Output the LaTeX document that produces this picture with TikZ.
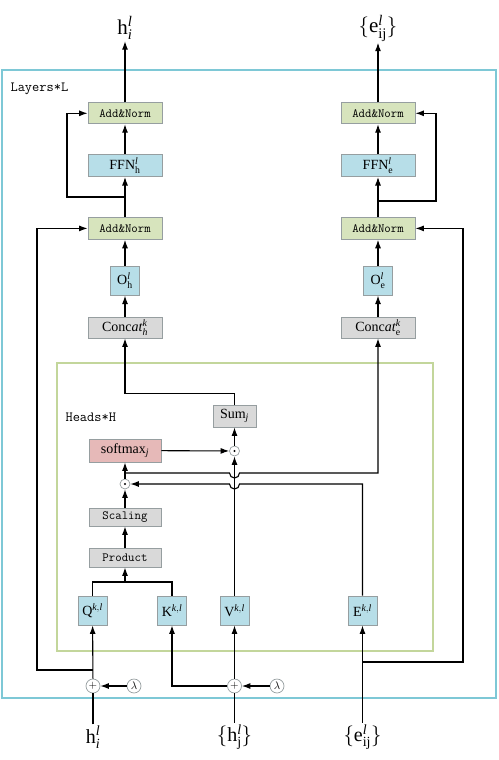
\documentclass[tikz,border=0pt]{standalone}
\usepackage{fontspec}
\setmainfont{Liberation Serif}
\usepackage{amsmath}
\usetikzlibrary{positioning,arrows.meta}

\definecolor{layercyan}{RGB}{126,200,214}
\definecolor{headgreen}{RGB}{195,214,155}
\definecolor{normgreen}{RGB}{215,228,189}
\definecolor{linblue}{RGB}{183,222,232}
\definecolor{opgray}{RGB}{217,217,217}
\definecolor{softpink}{RGB}{230,185,184}
\definecolor{boxline}{RGB}{150,158,160}

\begin{document}
\begin{tikzpicture}[x=1pt, y=-1pt, ->, >={Latex[length=8.5pt,width=6pt]}, line width=1.1pt,
	box/.style={rectangle, draw=boxline, line width=0.8pt, inner sep=0pt, minimum width=74pt, minimum height=21pt},
	norm/.style={box, fill=normgreen, font=\ttfamily\fontsize{12.5}{14}\selectfont},
	lin/.style={box, fill=linblue, font=\fontsize{14}{16}\selectfont},
	sq/.style={lin, minimum width=29pt, minimum height=29pt},
	op/.style={box, fill=opgray, font=\fontsize{14}{16}\selectfont},
	optt/.style={box, fill=opgray, minimum width=72pt, minimum height=19pt, font=\ttfamily\fontsize{12.5}{14}\selectfont},
	dotop/.style={circle, draw=boxline, line width=0.7pt, fill=white, minimum size=10pt, inner sep=0pt,
		path picture={\fill[black] (path picture bounding box.center) circle (1.1pt);}},
	addop/.style={circle, draw=boxline, line width=0.7pt, minimum size=14pt, inner sep=0pt, font=\fontsize{11}{12}\selectfont},
	io/.style={inner sep=1pt, font=\fontsize{20}{22}\selectfont},
	tag/.style={anchor=west, inner sep=0pt, font=\ttfamily\fontsize{14}{16}\selectfont}]
	\useasboundingbox (0,0) rectangle (498,760);

	% frames
	\draw[-, layercyan, line width=1.6pt] (2,70) rectangle (496,698);
	\draw[-, headgreen, line width=1.1pt] (57,363) rectangle (433,651);
	\node[tag] (layers) at (10,89) {Layers*L};
	\node[tag] (heads) at (65,417) {Heads*H};

	% node column
	\node[op] (cath) at (125,327.5) {$\mathrm{Conc}\mathit{at}_{\mathit{h}}^{\mathit{k}}$};
	\node[sq] (oh) [above=21pt of cath] {$\mathrm{O}_{\mathrm{h}}^{\mathit{l}}$};
	\node[norm, minimum height=22pt] (anh2) [above=26pt of oh] {Add\&Norm};
	\node[lin, minimum height=22pt] (ffnh) [above=40pt of anh2] {$\mathrm{FFN}_{\mathrm{h}}^{\mathit{l}}$};
	\node[norm] (anh1) [above=30pt of ffnh] {Add\&Norm};
	\node[io, font=\fontsize{21}{23}\selectfont] (outh) at (125,28) {$\mathrm{h}_{\mathit{i}}^{\mathit{l}}$};

	% edge column
	\node[op] (cate) at (378,327.5) {$\mathrm{Conc}\mathit{at}_{\mathrm{e}}^{\mathit{k}}$};
	\node[sq] (oe) [above=21pt of cate] {$\mathrm{O}_{\mathrm{e}}^{\mathit{l}}$};
	\node[norm, minimum height=22pt] (ane2) [above=26pt of oe] {Add\&Norm};
	\node[lin, minimum height=22pt] (ffne) [above=40pt of ane2] {$\mathrm{FFN}_{\mathrm{e}}^{\mathit{l}}$};
	\node[norm] (ane1) [above=30pt of ffne] {Add\&Norm};
	\node[io, font=\fontsize{21}{23}\selectfont] (oute) at (378,28) {$\{\mathrm{e}_{\mathrm{ij}}^{\mathit{l}}\}$};

	% attention head
	\node[sq] (q) at (92.5,610.5) {$\mathrm{Q}^{\mathit{k},\mathit{l}}$};
	\node[sq] (k) at (172,610.5) {$\mathrm{K}^{\mathit{k},\mathit{l}}$};
	\node[sq] (v) at (234.5,610.5) {$\mathrm{V}^{\mathit{k},\mathit{l}}$};
	\node[sq] (e) at (362.5,610.5) {$\mathrm{E}^{\mathit{k},\mathit{l}}$};
	\node[optt] (prod) at (125,557.5) {Product};
	\node[optt, minimum height=18pt] (scal) at (125,517) {Scaling};
	\node[dotop] (dot2) at (125,484) {};
	\node[box, fill=softpink, minimum width=72pt, minimum height=23pt, font=\fontsize{14}{16}\selectfont] (soft) at (125,450.5) {$\mathrm{softmax}_{\mathit{j}}$};
	\node[dotop] (dot1) at (234.5,451) {};
	\node[op, minimum width=43pt, minimum height=22pt] (sum) at (234.5,416) {$\mathrm{Sum}_{\mathit{j}}$};

	% inputs
	\node[addop] (p1) at (93,686) {$+$};
	\node[addop] (l1) at (134,686) {$\lambda$};
	\node[addop] (p2) at (234.5,686) {$+$};
	\node[addop] (l2) at (277,686) {$\lambda$};
	\node[io] (inh) at (93,737) {$\mathrm{h}_{\mathit{i}}^{\mathit{l}}$};
	\node[io] (inhj) at (234.5,737) {$\{\mathrm{h}_{\mathrm{j}}^{\mathit{l}}\}$};
	\node[io] (ine) at (362.5,737) {$\{\mathrm{e}_{\mathrm{ij}}^{\mathit{l}}\}$};

	\coordinate (fbh) at (125,197);
	\coordinate (fbe) at (378,201);
	\coordinate (resh) at (92.5,670);
	\coordinate (rese) at (362.5,662);
	\coordinate (brh) at (125,473);
	\coordinate (qk) at (125,582);

	% vertical flow
	\draw (anh1) -- (outh);
	\draw (ffnh) -- (anh1);
	\draw (anh2) -- (ffnh);
	\draw (oh) -- (anh2);
	\draw (cath) -- (oh);
	\draw (ane1) -- (oute);
	\draw (ffne) -- (ane1);
	\draw (ane2) -- (ffne);
	\draw (oe) -- (ane2);
	\draw (cate) -- (oe);
	\draw (fbh) -- ++(-58,0) |- (anh1.west);
	\draw (fbe) -- ++(58,0) |- (ane1.east);
	\draw (resh) -- (37,670) |- (anh2.west);
	\draw (rese) -- (463,662) |- (ane2.east);

	% head flow
	\draw[-] (q.north) |- (qk) -| (k.north);
	\draw (qk) -- (prod);
	\draw (prod) -- (scal);
	\draw (scal) -- (dot2);
	\draw (dot2) -- (soft);
	\draw (soft) -- (dot1);
	\draw (v) -- (dot1);
	\draw (dot1) -- (sum);
	\draw (sum.north) -- ++(0,-11) -| (cath.south);
	\draw (brh) -- (229.5,473) arc (180:0:5) -| (cate.south);
	\draw (e.north) |- (239.5,484) arc (0:180:5) -- (dot2.east);

	% input flow
	\draw[-] (inh) -- (p1);
	\draw (p1) -- (q);
	\draw (l1) -- (p1);
	\draw[-] (inhj) -- (p2);
	\draw (p2) -- (v);
	\draw (p2.west) -| (k.south);
	\draw (l2) -- (p2);
	\draw (ine) -- (e);
\end{tikzpicture}
\end{document}
